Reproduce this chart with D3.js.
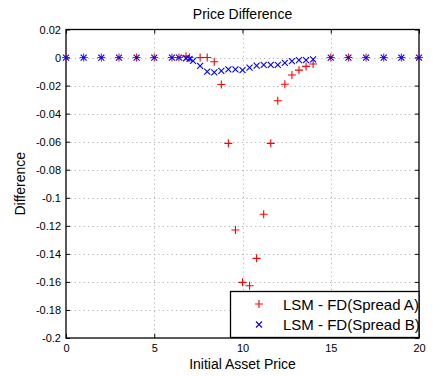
<!DOCTYPE html>
<html>
<head>
<meta charset="utf-8">
<script src="https://cdn.jsdelivr.net/npm/d3@7"></script>
<style>
  html, body { margin: 0; padding: 0; background: #fff; }
  svg { display: block; font-family: "Liberation Sans", Arial, sans-serif; }
</style>
</head>
<body>
<svg id="chart" width="433" height="376"></svg>
<script>
// LSM minus finite-difference price, per initial asset price
const spreadAX = [0, 1, 2, 3, 4, 5, 6, 6.4, 6.8, 7.0, 7.6, 8.0, 8.4, 8.8, 9.2, 9.6, 10.0, 10.4, 10.8,
                  11.2, 11.6, 12.0, 12.4, 12.8, 13.2, 13.6, 14.0, 15, 16, 17, 18, 19, 20];
const spreadAY = [0, 0, 0, 0, 0, 0, 0, 0, 0.001, 0, 0, 0, -0.003, -0.0192, -0.0612, -0.123, -0.1603, -0.1627, -0.1432,
                  -0.1118, -0.0612, -0.0308, -0.019, -0.0125, -0.009, -0.0063, -0.0046, 0, 0, 0, 0, 0, 0];

const spreadBX = [0, 1, 2, 3, 4, 5, 6, 6.4, 6.8, 7.0, 7.2, 7.6, 8.0, 8.4, 8.8, 9.2, 9.6, 10.0, 10.4, 10.8,
                  11.2, 11.6, 12.0, 12.4, 12.8, 13.2, 13.6, 14.0, 15, 16, 17, 18, 19, 20];
const spreadBY = [0, 0, 0, 0, 0, 0, 0, 0, -0.0005, -0.001, -0.0023, -0.006, -0.0100, -0.0106, -0.0095, -0.0084, -0.0084, -0.0089, -0.0072, -0.0058,
                  -0.0053, -0.0053, -0.0053, -0.0038, -0.0026, -0.0018, -0.0018, -0.0013, 0, 0, 0, 0, 0, 0];

const xTicks = [0, 5, 10, 15, 20];
const yTicks = [0.02, 0, -0.02, -0.04, -0.06, -0.08, -0.1, -0.12, -0.14, -0.16, -0.18, -0.2];
const legendLabels = ["LSM - FD(Spread A)", "LSM - FD(Spread B)"];

(function () {
  const svg = d3.select("#chart");
  const pLeft = 66, pTop = 29.5, pRight = 419, pBottom = 338;

  const x = d3.scaleLinear().domain([0, 20]).range([pLeft, pRight]);
  const y = d3.scaleLinear().domain([-0.2, 0.02]).range([pBottom, pTop]);

  // dotted grid
  const grid = svg.append("g").attr("stroke", "#b4b4b4").attr("stroke-width", 1)
    .attr("stroke-dasharray", "1.2,3.2");
  grid.selectAll("line.gx").data(xTicks.slice(1, -1)).join("line")
    .attr("x1", d => Math.round(x(d)) + 0.5).attr("x2", d => Math.round(x(d)) + 0.5)
    .attr("y1", pTop).attr("y2", pBottom);
  grid.selectAll("line.gy").data(yTicks.slice(1, -1)).join("line")
    .attr("x1", pLeft).attr("x2", pRight)
    .attr("y1", d => Math.round(y(d)) + 0.5).attr("y2", d => Math.round(y(d)) + 0.5);

  // axes with inward ticks
  const fmt = d => d === 0 ? "0" : String(d);
  const axB = svg.append("g").attr("transform", `translate(0,${pBottom})`)
    .call(d3.axisBottom(x).tickValues(xTicks).tickSizeInner(-4).tickSizeOuter(0).tickPadding(6).tickFormat(fmt));
  const axT = svg.append("g").attr("transform", `translate(0,${pTop})`)
    .call(d3.axisTop(x).tickValues(xTicks).tickSizeInner(-4).tickSizeOuter(0).tickFormat(""));
  const axL = svg.append("g").attr("transform", `translate(${pLeft},0)`)
    .call(d3.axisLeft(y).tickValues(yTicks).tickSizeInner(-4).tickSizeOuter(0).tickPadding(5).tickFormat(fmt));
  const axR = svg.append("g").attr("transform", `translate(${pRight},0)`)
    .call(d3.axisRight(y).tickValues(yTicks).tickSizeInner(-4).tickSizeOuter(0).tickFormat(""));
  [axB, axT, axL, axR].forEach(g => {
    g.select(".domain").remove();
    g.selectAll(".tick line").attr("stroke", "#000");
    g.selectAll("text").attr("fill", "#000").style("font-size", "11px")
      .style("font-family", "'Liberation Sans', Arial, sans-serif");
  });

  // frame
  svg.append("rect").attr("x", pLeft).attr("y", pTop)
    .attr("width", pRight - pLeft).attr("height", pBottom - pTop)
    .attr("fill", "none").attr("stroke", "#000").attr("stroke-width", 1.3);

  // markers
  const plusPath = "M-4,0H4M0,-4V4";
  const crossPath = "M-3,-3L3,3M-3,3L3,-3";
  const ptsA = spreadAX.map((v, i) => [v, spreadAY[i]]);
  const ptsB = spreadBX.map((v, i) => [v, spreadBY[i]]);

  svg.append("g").selectAll("path").data(ptsA).join("path")
    .attr("d", plusPath)
    .attr("transform", d => `translate(${x(d[0])},${y(d[1])})`)
    .attr("stroke", "#ff0000").attr("stroke-width", 1.1).attr("fill", "none");

  svg.append("g").selectAll("path").data(ptsB).join("path")
    .attr("d", crossPath)
    .attr("transform", d => `translate(${x(d[0])},${y(d[1])})`)
    .attr("stroke", "#0000ff").attr("stroke-width", 1.1).attr("fill", "none");

  // title and axis labels
  svg.append("text").attr("x", (pLeft + pRight) / 2).attr("y", 19)
    .attr("text-anchor", "middle").style("font-size", "14px").text("Price Difference");
  svg.append("text").attr("x", (pLeft + pRight) / 2).attr("y", 369)
    .attr("text-anchor", "middle").style("font-size", "14px").text("Initial Asset Price");
  svg.append("text").attr("transform", `translate(25,${(pTop + pBottom) / 2}) rotate(-90)`)
    .attr("text-anchor", "middle").style("font-size", "14px").text("Difference");

  // legend
  const lg = svg.append("g");
  lg.append("rect").attr("x", 230.5).attr("y", 291.5).attr("width", 188.5).attr("height", 46)
    .attr("fill", "#fff").attr("stroke", "#000").attr("stroke-width", 1.3);
  const rows = [
    { label: legendLabels[0], path: plusPath, color: "#ff0000" },
    { label: legendLabels[1], path: crossPath, color: "#0000ff" }
  ];
  rows.forEach((r, i) => {
    const cy = 304 + i * 20.5;
    lg.append("path").attr("d", r.path).attr("transform", `translate(259,${cy})`)
      .attr("stroke", r.color).attr("stroke-width", 1.1).attr("fill", "none");
    lg.append("text").attr("x", 283).attr("y", cy + 5.5)
      .style("font-size", "15px").text(r.label);
  });
})();
</script>
</body>
</html>
